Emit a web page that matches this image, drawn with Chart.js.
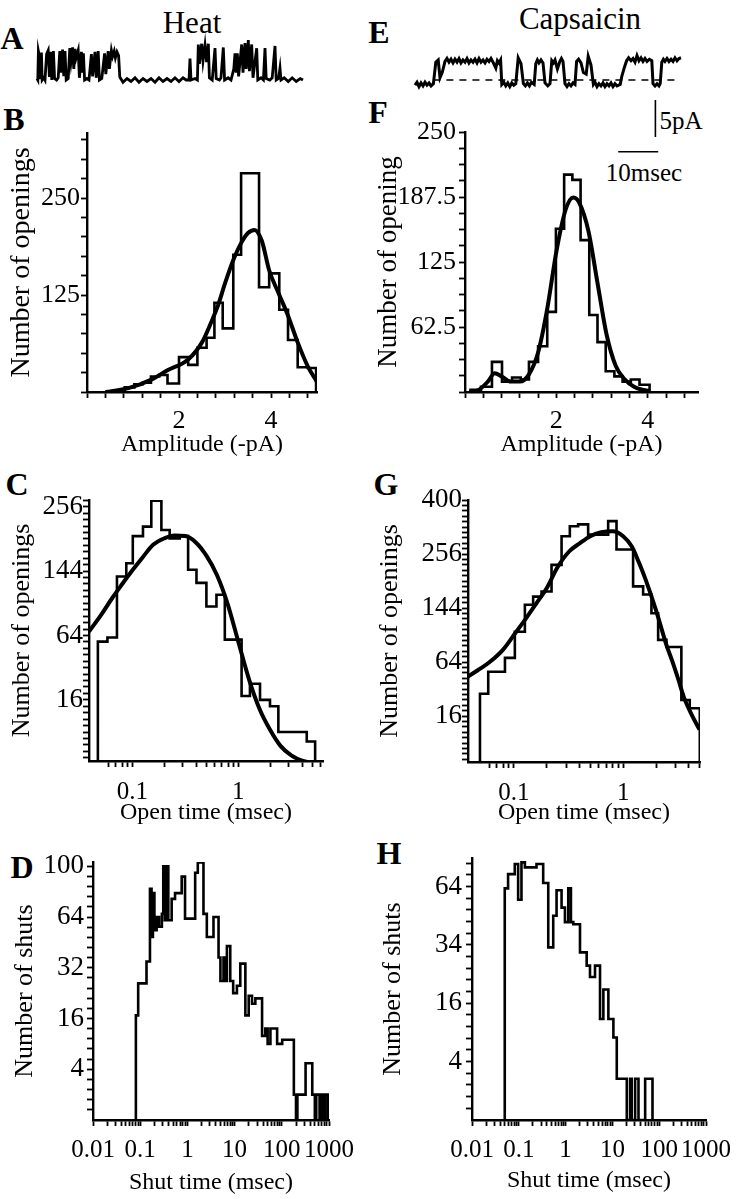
<!DOCTYPE html>
<html>
<head>
<meta charset="utf-8">
<title>Heat / Capsaicin single channels</title>
<script src="https://cdn.jsdelivr.net/npm/chart.js@4.4.1/dist/chart.umd.min.js"></script>
<style>
  body { margin: 0; width: 736px; height: 1199px; position: relative; overflow: hidden; background: #fff;
         font-family: "Liberation Serif", "Times New Roman", serif; color: #000; }
  canvas { position: absolute; }
  .t { position: absolute; transform: translate(-50%, -50%); line-height: 1; white-space: nowrap; }
  .letter { font-weight: bold; font-size: 32px; }
  .head { font-size: 31px; }
  .cal { font-size: 25px; }
</style>
</head>
<body>
<div class="t letter" style="left:12px;top:38px">A</div>
<div class="t letter" style="left:14px;top:119px">B</div>
<div class="t letter" style="left:17px;top:484px">C</div>
<div class="t letter" style="left:22px;top:867px">D</div>
<div class="t letter" style="left:379px;top:32px">E</div>
<div class="t letter" style="left:378px;top:112px">F</div>
<div class="t letter" style="left:386px;top:484px">G</div>
<div class="t letter" style="left:389px;top:853px">H</div>
<div class="t head" style="left:192px;top:22px">Heat</div>
<div class="t head" style="left:580px;top:18px">Capsaicin</div>
<div class="t cal" style="left:681px;top:120px">5pA</div>
<div class="t cal" style="left:644px;top:172px">10msec</div>

<script>
// ---------- data ----------

// A / E: example current traces, [time (msec), current (-pA)]
const heatTrace = [
  [0,0.2],[0.2,0],[0.35,3.9],[0.6,3.2],[0.8,0.1],[1.1,3.7],[1.3,0],[1.7,0.3],[2.0,0],[2.4,3.5],[2.8,4.0],[3.1,0.4],
  [3.4,3.8],[3.7,0],[4.1,3.9],[4.4,0.2],[4.9,0],[5.3,0.3],[5.7,3.9],[6.0,1.0],[6.4,4.1],[6.7,0.5],[7.0,3.9],[7.3,0],
  [7.8,0.2],[8.2,4.3],[8.5,2.5],[8.9,4.4],[9.2,1.5],[9.5,4.2],[9.8,3.0],[10.3,4.0],[10.6,0.3],[11.1,3.8],[11.4,1.0],
  [11.6,3.6],[11.9,0],[12.5,0.2],[13.0,0],[13.6,3.5],[13.9,0.5],[14.5,3.8],[14.8,0.3],[15.3,3.9],[15.6,0],[16.2,0.2],
  [16.9,3.6],[17.2,0.8],[17.8,3.9],[18.1,1.5],[18.6,4.0],[18.9,3.2],[19.3,3.9],[19.6,3.0],[20.0,3.8],[20.4,3.3],
  [20.7,0.4],[21.5,-0.3],[22.5,0.2],[23.5,-0.2],[24.5,0.3],[25.5,-0.3],[26.5,0.2],[27.5,-0.2],[28.5,0.2],[29.5,-0.3],
  [30.5,0.3],[31.5,-0.2],[32.5,0.2],[33.5,-0.2],[34.5,0.3],[35.5,-0.2],[36.5,0.3],[37.3,0],[38.0,0],[38.25,2.9],
  [38.5,0],[39.5,0.2],[40.1,0],[40.33,4.8],[40.6,2.2],[41.17,4.9],[41.5,2.6],[42.0,4.7],[42.4,2.4],[42.83,4.9],
  [43.1,0.3],[43.8,0],[44.5,4.3],[44.8,0.2],[45.6,0],[46.0,0.3],[46.58,4.4],[46.9,0],[47.8,0.3],[48.5,0],[49.2,1.5],
  [49.5,3.6],[49.8,1.0],[50.08,3.6],[50.4,0.5],[51.17,4.8],[51.5,1.0],[52.0,5.0],[52.3,1.5],[52.83,5.4],[53.1,1.2],
  [53.67,4.8],[54.0,0.3],[54.92,4.3],[55.2,0],[56.0,0.3],[56.6,0],[57.0,4.3],[57.3,0.2],[58.2,0],[58.8,0.3],
  [59.5,4.6],[59.8,0],[60.4,0.2],[60.75,1.6],[61.0,0],[61.8,0.3],[62.8,-0.2],[63.8,0.3],[64.8,-0.2],[65.8,0.2],[66.5,0]
];
const capTrace = [
  [0,-0.7],[0.5,-0.3],[1,-0.9],[1.5,-0.4],[2,-0.8],[2.5,-0.3],[3,-0.7],[3.5,-0.4],[4,-0.8],[4.6,-0.5],[5.2,2.4],
  [5.8,2.7],[6.25,0.3],[6.8,1.0],[7.5,2.5],[8.0,2.9],[8.5,2.4],[9.0,2.8],[9.5,2.3],[10.0,2.8],[10.5,2.4],[11.0,2.9],
  [11.5,2.3],[12.0,2.7],[12.5,2.4],[13.0,2.9],[13.5,2.3],[14.0,2.7],[14.5,2.4],[15.0,2.8],[15.5,2.3],[16.0,2.9],
  [16.5,2.4],[17.0,2.7],[17.5,2.3],[18.0,2.8],[18.5,2.5],[19.0,2.9],[19.5,2.4],[20.2,1.6],[20.6,2.6],[21.0,2.3],
  [21.4,2.7],[21.7,-0.6],[22.2,-0.3],[22.7,-0.8],[23.2,-0.4],[23.7,-0.9],[24.2,-0.4],[24.7,-0.7],[25.2,-0.5],
  [25.8,3.0],[26.5,2.2],[27.1,-0.5],[27.6,-0.8],[28.1,-0.4],[28.6,-0.8],[29.1,-0.3],[29.8,-0.6],[30.2,2.2],[30.6,2.7],
  [31,2.3],[31.5,2.7],[32,2.3],[32.5,-0.4],[33.2,-0.8],[33.75,-0.5],[34.2,2.6],[34.6,2.3],[35,2.7],[35.6,1.5],
  [36.2,2.5],[36.6,2.9],[37.0,2.5],[37.5,-0.5],[38.0,-0.9],[38.5,-0.5],[39.0,-0.8],[39.5,-0.4],[40.0,-0.6],[40.4,2.5],
  [40.9,2.8],[41.5,2.3],[42.1,1.0],[42.8,0.8],[43.3,3.2],[44.0,2.0],[44.6,-0.6],[45.0,-0.3],[45.5,-0.9],[46.0,-0.5],
  [46.5,-0.8],[47.0,-0.4],[47.5,-0.9],[48.0,-0.5],[48.5,-0.8],[49.0,-0.4],[49.5,-0.9],[50.0,-0.5],[50.5,-0.8],
  [51.3,-0.6],[51.7,0.5],[52.4,1.8],[52.9,2.6],[53.4,3.0],[54,2.6],[54.5,2.9],[55,2.4],[55.5,3.3],[56,2.6],
  [56.5,3.0],[57,2.5],[57.5,2.9],[58,2.5],[58.6,2.8],[59.2,2.6],[59.5,-0.5],[60.0,-0.8],[60.5,-0.5],[61.0,-0.8],
  [61.3,-0.5],[61.7,2.4],[62.1,2.8],[62.5,2.5],[63.0,2.9],[63.5,2.5],[64.0,2.8],[64.5,2.5],[65.0,3.0],[65.5,2.6],
  [66.0,2.9],[66.5,3.0]
];
const capDash = [[4.6, 0], [65, 0]];
const scaleBarPA = 5;
const scaleBarMs = 10;

// B: heat amplitude histogram (-pA) and fit
const heatAmpEdges = [0.62,0.82,1.03,1.21,1.39,1.57,1.75,2.0,2.2,2.4,2.6,2.77,2.95,3.18,3.35,3.74,3.96,4.18,4.37,4.58,4.8,4.98];
const heatAmpCounts = [2,6,10,12,20,22,11,45,35,57,70,115,82,177,282,135,153,106,67,32,31];
const heatAmpFit = [[0.4,0],[0.9,5],[1.4,16],[1.75,28],[2.2,42],[2.5,64],[2.7,90],[2.85,112],[3.0,140],[3.2,173],
  [3.35,192],[3.5,205],[3.64,209],[3.8,195],[3.96,157],[4.16,128],[4.36,100],[4.58,64],[4.8,33],[5.0,13]];

// F: capsaicin amplitude histogram and fit
const capAmpEdges = [0.12,0.35,0.59,0.81,1.03,1.22,1.40,1.60,1.80,1.99,2.17,2.35,2.53,2.72,2.90,3.08,3.27,3.45,3.63,3.82,4.04];
const capAmpCounts = [2,5,29,10,14,12,29,44,77,157,209,204,146,74,48,20,15,10,12,7];
const capAmpFit = [[0.1,0],[0.3,2],[0.5,10],[0.65,18],[0.8,15],[1.0,10],[1.2,10],[1.4,17],[1.6,38],[1.8,80],[2.0,135],
  [2.2,175],[2.37,187],[2.5,182],[2.7,155],[2.9,105],[3.1,55],[3.3,25],[3.5,12],[3.7,5],[3.9,2],[4.05,1]];

// C: heat open times (msec), square-root count axis
const heatOpenEdges = [0.0473,0.0582,0.0716,0.0877,0.101,0.126,0.151,0.188,0.225,0.280,0.336,0.403,0.500,0.622,0.746,1.074,1.288,1.603,1.991,2.388,4.426,5.31];
const heatOpenCounts = [58,62,136,156,201,218,268,212,197,201,146,127,96,111,60,18,25,16,13,4,2];
const heatOpenFit = [[0.039,68],[0.05,85],[0.0656,108],[0.079,124],[0.101,146],[0.126,166],[0.157,186],[0.2,197],
  [0.251,202],[0.316,201],[0.398,190],[0.5,168],[0.63,138],[0.79,100],[1.0,58],[1.26,28],[1.58,12],[2.0,4.5],
  [2.5,1.3],[3.16,0.3],[4.0,0.05],[6.3,0]];

// G: capsaicin open times
const capOpenEdges = [0.0489,0.0582,0.0828,0.102,0.126,0.150,0.179,0.221,0.273,0.325,0.387,0.478,0.590,0.729,0.869,1.233,1.523,1.815,2.09,2.49,3.41,4.07,5.03];
const capOpenCounts = [32,53,69,105,150,165,175,231,300,326,331,304,304,340,267,185,169,135,93,83,27,21];
const capOpenFit = [[0.038,48],[0.05,57],[0.06,64],[0.08,80],[0.1,100],[0.13,127],[0.16,152],[0.2,182],[0.25,225],
  [0.32,262],[0.4,282],[0.5,300],[0.63,310],[0.8,313],[1.0,300],[1.2,274],[1.4,235],[1.6,200],[2.0,140],[2.5,85],
  [2.8,66],[3.2,45],[3.6,29],[4.3,16],[5.0,9]];

// D: heat shut times
const heatShutEdges = [0.081,0.0906,0.136,0.161,0.174,0.186,0.2,0.223,0.251,0.288,0.308,0.331,0.355,0.394,0.464,0.547,
  0.757,0.891,1.46,1.66,2.19,2.58,3.57,4.57,5.01,5.82,6.31,6.87,8.09,9.33,11.2,13.2,16.9,19.9,23.4,27.5,38.2,44.7,
  50.1,57.4,79.6,102,180,200,214,319,442,501,537,631,692,760,849,966];
const heatShutCounts = [17,29,39,83,52,80,56,64,58,66,100,62,100,62,76,80,92,63,95,103,66,52,64,41,30,41,30,47,30,25,
  28,38,17,24,21,23,11,13,9,13,9,10,1,0,1,5,1,0,1,0,1,0,1];

// H: capsaicin shut times
const capShutEdges = [0.0501,0.059,0.082,0.0968,0.114,0.135,0.239,0.332,0.426,0.544,0.641,0.82,0.968,1.14,1.3,1.46,
  2.03,2.82,3.32,4.25,5.44,6.41,8.2,10.5,12.4,20.3,23.9,25.9,30.6,36.1,50.1,71.9];
const capShutCounts = [63,71,77,57,78,75,77,66,35,49,62,53,46,63,46,45,33,28,24,28,12,20,12,8,2,0,2,0,2,0,2];

// tick labels
const ampXLabels = [2, 4];
const heatAmpYLabels = [125, 250];
const capAmpYLabels = [62.5, 125, 187.5, 250];
const openXLabels = [0.1, 1];
const heatOpenYLabels = [16, 64, 144, 256];
const capOpenYLabels = [16, 64, 144, 256, 400];
const shutXLabels = [0.01, 0.1, 1, 10, 100, 1000];
const heatShutYLabels = [4, 16, 36, 64, 100];
const heatShutYText = ['4', '16', '32', '64', '100'];
const capShutYLabels = [4, 16, 36, 64];
const capShutYText = ['4', '16', '34', '64'];

// ---------- drawing ----------
const BLACK = '#000';
Chart.defaults.font.family = '"Liberation Serif", "Times New Roman", serif';
Chart.defaults.color = BLACK;
Chart.defaults.animation = false;
Chart.defaults.elements.point.radius = 0;
Chart.defaults.plugins.legend.display = false;
Chart.defaults.plugins.tooltip.enabled = false;

const sq = v => Math.sqrt(v);

function steps(a, b, s) {
  const out = [];
  for (let k = Math.round(a / s); k * s <= b + 1e-9; k++) out.push(Math.round(k * s * 1e6) / 1e6);
  return out;
}
function decades(a, b) {
  const out = [];
  for (let e = Math.floor(Math.log10(a)); e <= Math.ceil(Math.log10(b)); e++) {
    for (let d = 1; d <= 9; d++) {
      const v = +(d * Math.pow(10, e)).toPrecision(6);
      if (v >= a * 0.9999 && v <= b * 1.0001) out.push(v);
    }
  }
  return out;
}
function histPoints(edges, counts, tf) {
  const pts = [{ x: edges[0], y: tf(0) }];
  counts.forEach((c, i) => {
    pts.push({ x: edges[i], y: tf(c) });
    pts.push({ x: edges[i + 1], y: tf(c) });
  });
  pts.push({ x: edges[edges.length - 1], y: tf(0) });
  return pts;
}

function axisOpts(o) {
  const horiz = o.pos === 'bottom';
  const ticks = Array.from(new Set(o.tickAt.concat(o.labelAt))).sort((a, b) => a - b);
  return {
    type: o.type, position: o.pos, min: o.min, max: o.max,
    border: { display: true, color: BLACK, width: 2.4 },
    grid: { drawOnChartArea: false, drawTicks: true, tickLength: 6, tickColor: BLACK, tickWidth: 1.8, color: BLACK },
    ticks: {
      autoSkip: false, maxRotation: 0, minRotation: 0, padding: o.pad, color: BLACK,
      font: { size: o.labelSize },
      callback: v => {
        const i = o.labelAt.findIndex(t => Math.abs(t - v) < 1e-6 * Math.max(1, Math.abs(t)));
        return i < 0 ? '' : o.labelText[i];
      }
    },
    title: { display: true, text: o.title, font: { size: o.titleSize }, padding: 0, color: BLACK },
    afterBuildTicks: s => { s.ticks = ticks.map(v => ({ value: v })); },
    afterFit: s => {
      if (horiz) s.height = o.size; else s.width = o.size;
      s.paddingLeft = s.paddingRight = s.paddingTop = s.paddingBottom = 0;
    }
  };
}

function histPanel(p) {
  const padTop = 20, padRight = 34;
  const left = Math.round(p.y.titleX - p.y.titleSize * 0.6);
  const yW = p.area.l - left;
  const xH = Math.round(p.x.titleY + p.x.titleSize * 0.6 - p.area.b);
  const cv = document.createElement('canvas');
  cv.width = yW + (p.area.r - p.area.l) + padRight;
  cv.height = padTop + (p.area.b - p.area.t) + xH;
  cv.style.left = left + 'px';
  cv.style.top = (p.area.t - padTop) + 'px';
  document.body.appendChild(cv);

  const ty = p.sqrtY ? sq : (v => v);
  const datasets = [{
    data: histPoints(p.edges, p.counts, ty), borderColor: BLACK, borderWidth: 2.6,
    tension: 0, borderJoinStyle: 'miter'
  }];
  if (p.fit) {
    datasets.push({
      data: p.fit.map(([x, y]) => ({ x, y: ty(y) })), borderColor: BLACK, borderWidth: 4,
      tension: 0.4, cubicInterpolationMode: 'monotone'
    });
  }
  p.x.size = xH; p.x.pos = 'bottom';
  p.y.size = yW; p.y.pos = 'left';
  if (p.sqrtY) {
    p.y.labelAt = p.y.labelAt.map(sq);
  }
  new Chart(cv, {
    type: 'line',
    data: { datasets },
    options: {
      responsive: false,
      layout: { padding: { top: padTop, right: padRight, left: 0, bottom: 0 } },
      scales: { x: axisOpts(p.x), y: axisOpts(p.y) }
    }
  });
}

function tracePanel(area, yMin, yMax, xMax, sets) {
  const pad = 6;
  const cv = document.createElement('canvas');
  cv.width = area.r - area.l + 2 * pad;
  cv.height = area.b - area.t + 2 * pad;
  cv.style.left = (area.l - pad) + 'px';
  cv.style.top = (area.t - pad) + 'px';
  document.body.appendChild(cv);
  new Chart(cv, {
    type: 'line',
    data: { datasets: sets },
    options: {
      responsive: false,
      layout: { padding: pad },
      scales: {
        x: { type: 'linear', display: false, min: 0, max: xMax },
        y: { type: 'linear', display: false, min: yMin, max: yMax }
      }
    }
  });
}

const toXY = arr => arr.map(([x, y]) => ({ x, y }));

// A
tracePanel({ l: 37, t: 35, r: 303, b: 90 }, -1.35, 6.08, 66.5, [
  { data: toXY(heatTrace), borderColor: BLACK, borderWidth: 2.8, tension: 0, clip: false }
]);

// E (with calibration bars)
tracePanel({ l: 415, t: 50, r: 681, b: 162 }, -11.08, 4.05, 66.5, [
  { data: toXY(capTrace), borderColor: BLACK, borderWidth: 3, tension: 0, clip: false },
  { data: toXY(capDash), borderColor: BLACK, borderWidth: 1.6, borderDash: [7, 6] },
  { data: [{ x: 60.1, y: -2.7 }, { x: 60.1, y: -2.7 - scaleBarPA }], borderColor: BLACK, borderWidth: 1.6 },
  { data: [{ x: 60.8 - scaleBarMs, y: -9.7 }, { x: 60.8, y: -9.7 }], borderColor: BLACK, borderWidth: 1.6 }
]);

// B
histPanel({
  area: { l: 87, t: 133, r: 317, b: 392 },
  edges: heatAmpEdges, counts: heatAmpCounts, fit: heatAmpFit,
  x: { type: 'linear', min: 0, max: 5.0, tickAt: steps(0, 4.8, 0.4), labelAt: ampXLabels, labelText: ampXLabels.map(String),
       pad: 7.5, labelSize: 26, title: 'Amplitude (-pA)', titleSize: 24, titleY: 445 },
  y: { type: 'linear', min: 0, max: 334, tickAt: steps(0, 325, 25), labelAt: heatAmpYLabels, labelText: heatAmpYLabels.map(String),
       pad: 1, labelSize: 26, title: 'Number of openings', titleSize: 28, titleX: 22 }
});

// F
histPanel({
  area: { l: 465, t: 132, r: 698, b: 392 },
  edges: capAmpEdges, counts: capAmpCounts, fit: capAmpFit,
  x: { type: 'linear', min: 0, max: 5.1, tickAt: steps(0, 4.8, 0.4), labelAt: ampXLabels, labelText: ampXLabels.map(String),
       pad: 8, labelSize: 26, title: 'Amplitude (-pA)', titleSize: 24, titleY: 445 },
  y: { type: 'linear', min: 0, max: 250, tickAt: steps(0, 250, 15.625), labelAt: capAmpYLabels, labelText: capAmpYLabels.map(String),
       pad: 3, labelSize: 26, title: 'Number of opening', titleSize: 27, titleX: 389 }
});

// C
histPanel({
  area: { l: 89, t: 500, r: 323, b: 761 }, sqrtY: true,
  edges: heatOpenEdges, counts: heatOpenCounts, fit: heatOpenFit,
  x: { type: 'logarithmic', min: 0.039, max: 6.3, tickAt: decades(0.06, 6), labelAt: openXLabels, labelText: openXLabels.map(String),
       pad: 10.5, labelSize: 25, title: 'Open time (msec)', titleSize: 24, titleY: 813 },
  y: { type: 'linear', min: 0.2, max: 16.42, tickAt: steps(0.4, 16.4, 0.4), labelAt: heatOpenYLabels, labelText: heatOpenYLabels.map(String),
       pad: 0, labelSize: 27, title: 'Number of openings', titleSize: 26, titleX: 23 }
});

// G
histPanel({
  area: { l: 468, t: 500, r: 700, b: 762 }, sqrtY: true,
  edges: capOpenEdges, counts: capOpenCounts, fit: capOpenFit,
  x: { type: 'logarithmic', min: 0.038, max: 5.05, tickAt: decades(0.06, 5), labelAt: openXLabels, labelText: openXLabels.map(String),
       pad: 10, labelSize: 25, title: 'Open time (msec)', titleSize: 24, titleY: 813 },
  y: { type: 'linear', min: 0.6, max: 20, tickAt: steps(0.8, 20, 0.4), labelAt: capOpenYLabels, labelText: capOpenYLabels.map(String),
       pad: 0, labelSize: 27, title: 'Number of openings', titleSize: 26, titleX: 391 }
});

// D
histPanel({
  area: { l: 93, t: 862, r: 329, b: 1120 }, sqrtY: true,
  edges: heatShutEdges, counts: heatShutCounts,
  x: { type: 'logarithmic', min: 0.01, max: 1000, tickAt: decades(0.01, 1000), labelAt: shutXLabels, labelText: shutXLabels.map(String),
       pad: 9.5, labelSize: 25, title: 'Shut time (msec)', titleSize: 24, titleY: 1183 },
  y: { type: 'linear', min: 0, max: 10.17, tickAt: steps(0.4, 10, 0.4), labelAt: heatShutYLabels, labelText: heatShutYText,
       pad: 3, labelSize: 27, title: 'Number of shuts', titleSize: 26, titleX: 26 }
});

// H
histPanel({
  area: { l: 472, t: 858, r: 706, b: 1120 }, sqrtY: true,
  edges: capShutEdges, counts: capShutCounts,
  x: { type: 'logarithmic', min: 0.01, max: 1000, tickAt: decades(0.01, 1000), labelAt: shutXLabels, labelText: shutXLabels.map(String),
       pad: 9, labelSize: 25, title: 'Shut time (msec)', titleSize: 24, titleY: 1181 },
  y: { type: 'linear', min: 0, max: 8.98, tickAt: steps(0.4, 8.8, 0.4), labelAt: capShutYLabels, labelText: capShutYText,
       pad: 4, labelSize: 27, title: 'Number of shuts', titleSize: 26, titleX: 394 }
});
</script>
</body>
</html>
